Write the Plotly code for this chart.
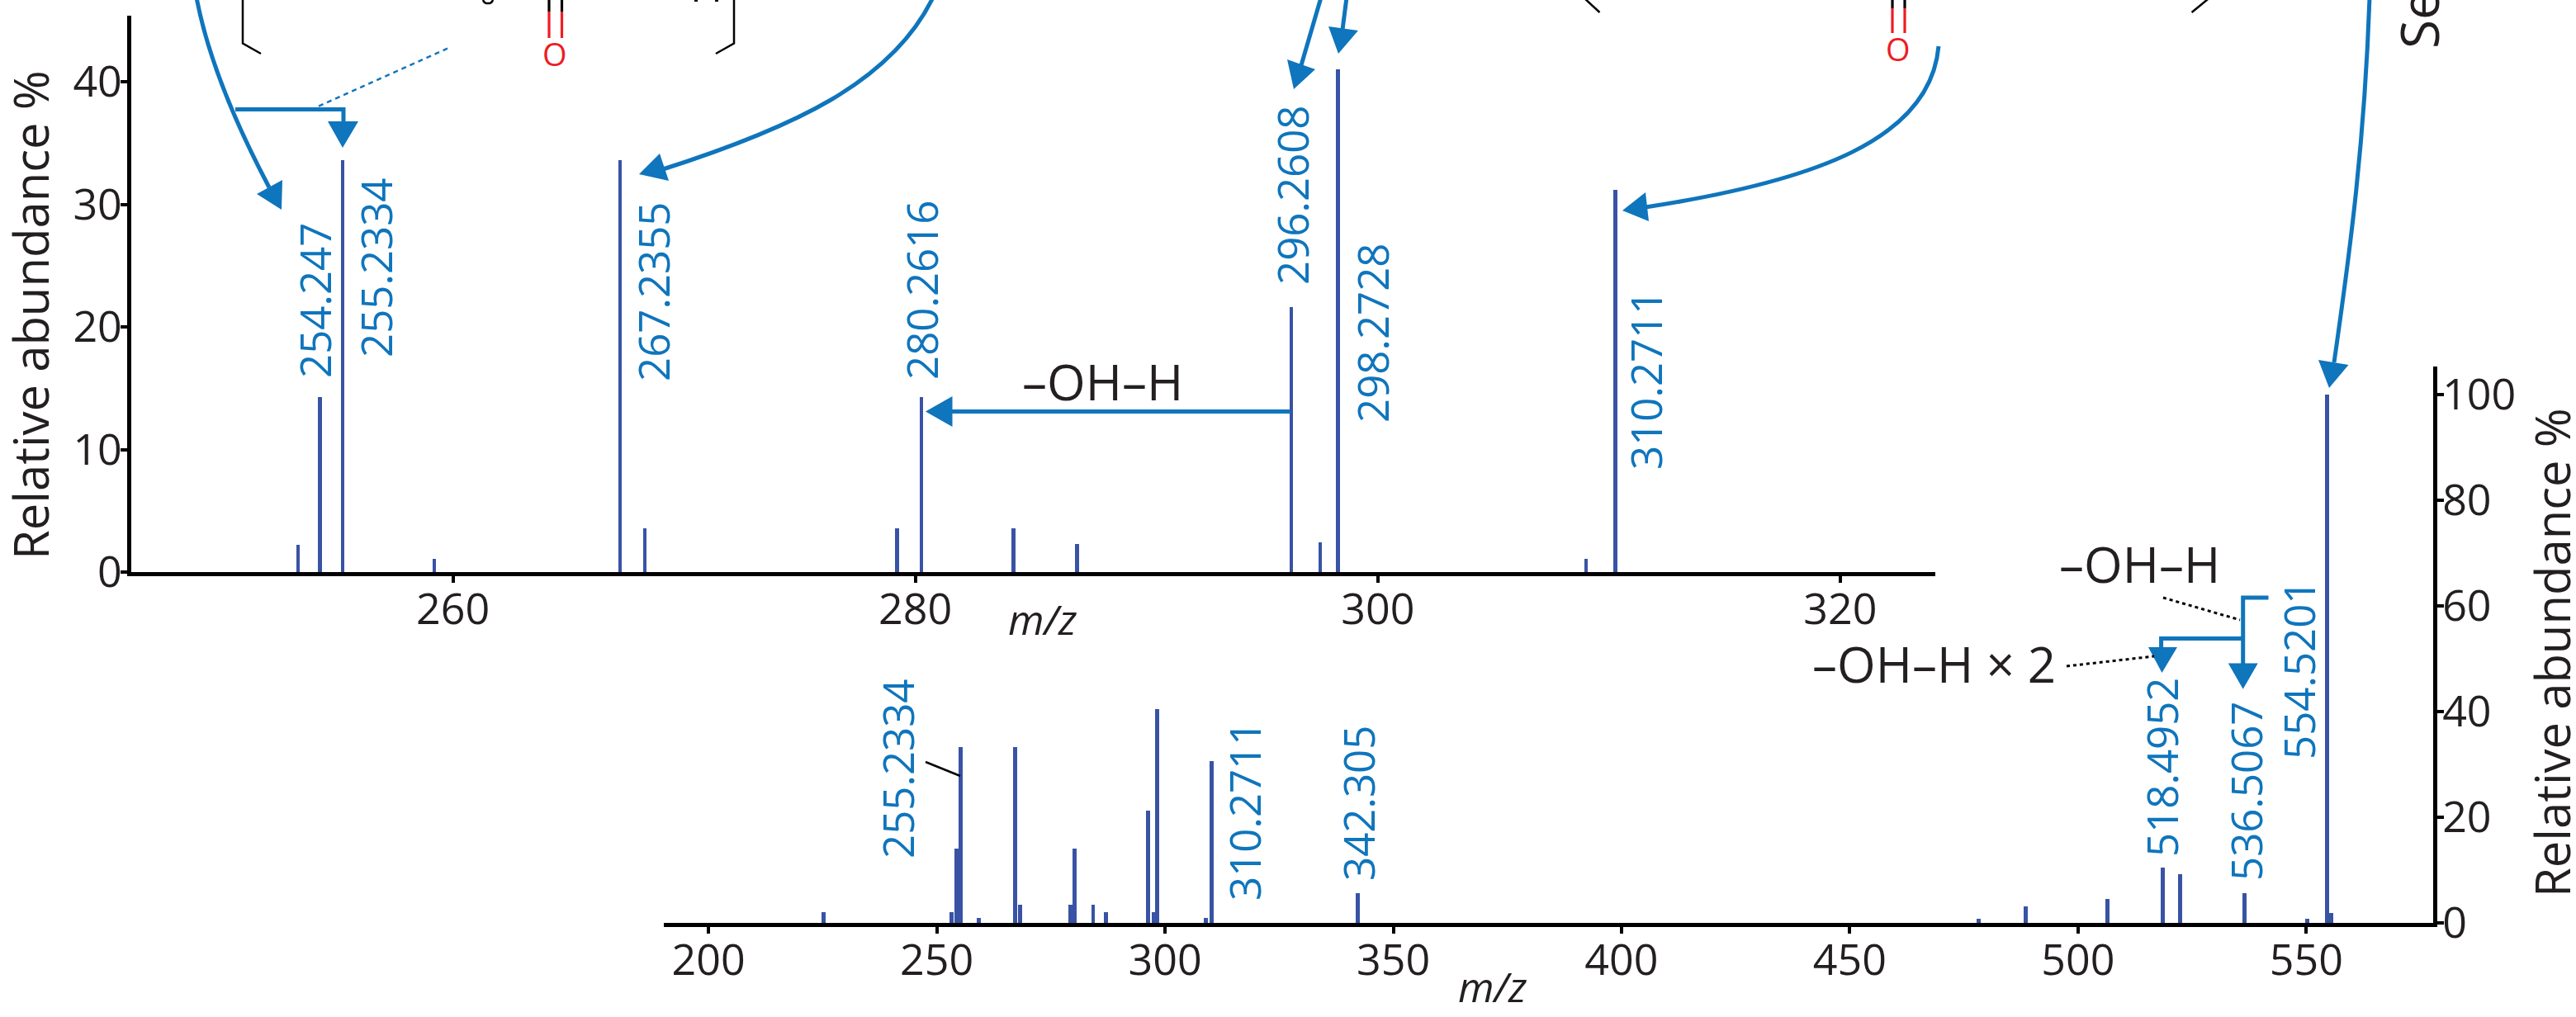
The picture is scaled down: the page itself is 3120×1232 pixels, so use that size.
import plotly.graph_objects as go

W, H = 3120, 1232
BAR = "#3953A4"
BLUE = "#0F75BC"
INK = "#231F20"
RED = "#ED1C24"
FONT = "Open Sans"

# Zoomed spectrum
top_mz = [253.3, 254.247, 255.2334, 259.2, 267.2355, 268.3, 279.2, 280.2616, 284.25, 287.0,
          296.2608, 297.5, 298.2728, 309.0, 310.2711]
top_abundance = [2.2, 14.3, 33.6, 1.1, 33.6, 3.6, 3.6, 14.3, 3.6, 2.3, 21.6, 2.4, 41.0, 1.1, 31.2]
top_xticks = [260, 280, 300, 320]
top_yticks = [0, 10, 20, 30, 40]

# Full spectrum
full_mz = [225.2, 253.3, 254.247, 255.2334, 259.2, 267.2355, 268.3, 279.2, 280.2616, 284.25, 287.0,
           296.2608, 297.5, 298.2728, 309.0, 310.2711, 342.305, 478.3, 488.5, 506.4, 518.4952,
           522.4, 536.5067, 550.3, 554.5201, 555.5]
full_abundance = [2.1, 2.1, 14.0, 33.2, 1.0, 33.2, 3.4, 3.4, 14.0, 3.4, 2.1, 21.3, 2.1, 40.5, 1.0,
                  30.7, 5.7, 0.8, 3.2, 4.5, 10.4, 9.2, 5.6, 0.8, 100, 1.9]
full_xticks = [200, 250, 300, 350, 400, 450, 500, 550]
full_yticks = [0, 20, 40, 60, 80, 100]

top_labels = ["254.247", "255.2334", "267.2355", "280.2616", "296.2608", "298.2728", "310.2711"]
full_labels = ["255.2334", "310.2711", "342.305", "518.4952", "536.5067", "554.5201"]


def fx(x):
    return x / W


def fy(y):
    return 1 - y / H


def path(d, **kw):
    """d: list of commands such as ('M', x, y) in picture pixels."""
    parts = []
    for c in d:
        pts = c[1:]
        parts.append(c[0] + " " + " ".join(
            f"{fx(pts[i]):.5f},{fy(pts[i + 1]):.5f}" for i in range(0, len(pts), 2)))
    return dict(type="path", xref="paper", yref="paper", path=" ".join(parts), **kw)


shapes = []


def stroke(d, color=BLUE, width=5, dash=None):
    shapes.append(path(d, line=dict(color=color, width=width, dash=dash), fillcolor="rgba(0,0,0,0)"))


def head(a, b, tip):
    shapes.append(path([("M", *a), ("L", *b), ("L", *tip)], line=dict(width=0), fillcolor=BLUE))
    shapes[-1]["path"] += " Z"


# curved arrows
stroke([("M", 238, -3), ("C", 250, 60, 280, 140, 326, 227)])
head((311, 235), (342, 218), (341, 254))
stroke([("M", 285, 132.5), ("L", 416, 132.5), ("L", 416, 150)])
head((397, 147), (434, 147), (415, 179))
stroke([("M", 386, 128.6), ("L", 542, 58.7)], width=2.5, dash="6px,5px")
stroke([("M", 1130, -3), ("C", 1080, 100, 960, 155, 800, 206)])
head((799, 186), (810, 219), (774, 211))
stroke([("M", 1600, -3), ("L", 1576, 79)])
head((1559, 72), (1593, 84), (1567, 108))
stroke([("M", 1631, -3), ("L", 1626, 36)])
head((1609, 32), (1645, 37), (1621, 65))
stroke([("M", 2348, 56), ("C", 2338, 170, 2195, 220, 1993, 251)])
head((1993, 233), (1997, 268), (1965, 255))
stroke([("M", 2870, -3), ("C", 2864, 170, 2847, 300, 2827, 439)])
head((2808, 436), (2844.5, 442), (2821, 470))
# -OH-H arrow
stroke([("M", 1563, 498.5), ("L", 1150, 498.5)])
head((1153.5, 480), (1153.5, 517), (1121, 498.5))
# right-hand neutral loss tree
stroke([("M", 2747.5, 724), ("L", 2716.7, 724), ("L", 2716.7, 806)])
head((2698.8, 803.5), (2734.7, 803.5), (2716.7, 834.7))
stroke([("M", 2716.7, 773.6), ("L", 2617.6, 773.6), ("L", 2617.6, 787)])
head((2602, 784), (2637, 784), (2618.5, 815))
stroke([("M", 2620, 724), ("L", 2713, 751)], color="#000000", width=3, dash="4px,4px")
stroke([("M", 2503, 807), ("L", 2609, 795)], color="#000000", width=3, dash="4px,4px")
stroke([("M", 1121, 923), ("L", 1163, 940)], color="#000000", width=2.5)

# cropped structure fragments
stroke([("M", 294, -3), ("L", 294, 52.5), ("L", 316, 65)], color="#000000", width=2.5)
stroke([("M", 889, -3), ("L", 889, 52.5), ("L", 867, 65)], color="#000000", width=2.5)
stroke([("M", 1918, -3), ("L", 1937.5, 15)], color="#000000", width=2.5)
stroke([("M", 2676.6, -3), ("L", 2654.6, 15)], color="#000000", width=2.5)
stroke([("M", 585, 0), ("C", 587, 5.5, 595, 5.5, 597, 0)], color="#000000", width=2.5)
stroke([("M", 843, -3), ("L", 843, 2)], color="#000000", width=4)
stroke([("M", 868, -3), ("L", 868, 2)], color="#000000", width=4)
for x, split, end in [(665, 14, 46), (680.5, 14, 46), (2292, 10, 40), (2307, 10, 40)]:
    stroke([("M", x, -3), ("L", x, split)], color="#000000", width=3.2)
    stroke([("M", x, split), ("L", x, end)], color=RED, width=3.2)


def note(text, x, y, size=51, color=BLUE, angle=-90, **kw):
    return dict(text=text, xref="paper", yref="paper", x=fx(x), y=fy(y), showarrow=False,
                textangle=angle, xanchor="center", yanchor="middle",
                font=dict(family=FONT, size=size, color=color), **kw)


annotations = []
for text, x, y in zip(top_labels, [381, 455, 791, 1116, 1565, 1662, 1993], [364, 324, 353, 351, 236, 403, 460]):
    annotations.append(note(text, x, y))
for text, x, y in zip(full_labels, [1087, 1507, 1645, 2618, 2720, 2784], [931, 982, 973, 929, 958, 811]):
    annotations.append(note(text, x, y))
annotations += [
    note("Relative abundance %", 36, 382, size=58, color=INK),
    note("Relative abundance %", 3090, 791, size=58, color=INK),
    note("<i>m/z</i>", 1262, 750, size=50, color=INK, angle=0),
    note("<i>m/z</i>", 1807, 1195, size=50, color=INK, angle=0),
    note("–OH–H", 1335, 462, size=60, color=INK, angle=0),
    note("–OH–H", 2591, 683, size=60, color=INK, angle=0),
    note("–OH–H × 2", 2342, 804, size=60, color=INK, angle=0),
    note("O", 672, 65, size=38, color=RED, angle=0),
    note("O", 2299, 59, size=38, color=RED, angle=0),
    note("Se", 2930, 24, size=64, color=INK),
]

fig = go.Figure()
fig.add_trace(go.Bar(x=top_mz, y=top_abundance, width=0.16, marker=dict(color=BAR, line=dict(width=0)),
                     xaxis="x", yaxis="y", showlegend=False))
fig.add_trace(go.Bar(x=full_mz, y=full_abundance, width=0.9, marker=dict(color=BAR, line=dict(width=0)),
                     xaxis="x2", yaxis="y2", showlegend=False))

tick_font = dict(family=FONT, size=52, color=INK)
axis = dict(showline=True, linecolor="#000000", linewidth=4.5, showgrid=False, zeroline=False,
            ticks="outside", ticklen=8, tickwidth=4, tickcolor="#000000", tickfont=tick_font,
            ticklabelstandoff=-12)

fig.update_layout(
    width=W, height=H, margin=dict(l=0, r=0, t=0, b=0, autoexpand=False), autosize=False,
    paper_bgcolor="#FFFFFF", plot_bgcolor="rgba(0,0,0,0)", bargap=0,
    shapes=shapes, annotations=annotations,
    xaxis=dict(axis, domain=[fx(159), fx(2344)], range=[246.09, 324.11], tickvals=top_xticks, anchor="y"),
    yaxis=dict(axis, domain=[fy(693), fy(19)], range=[0, 45.4], tickvals=top_yticks, anchor="x"),
    xaxis2=dict(axis, domain=[fx(804), fx(2947)], range=[190.2, 577.8], tickvals=full_xticks, anchor="y2"),
    yaxis2=dict(axis, domain=[fy(1118), fy(444)], range=[0, 105.3], tickvals=full_yticks, anchor="x2", side="right"),
)
fig.write_html("out.html", config=dict(displayModeBar=False),
               post_script="document.body.style.margin='0';document.documentElement.style.overflow='hidden';")
